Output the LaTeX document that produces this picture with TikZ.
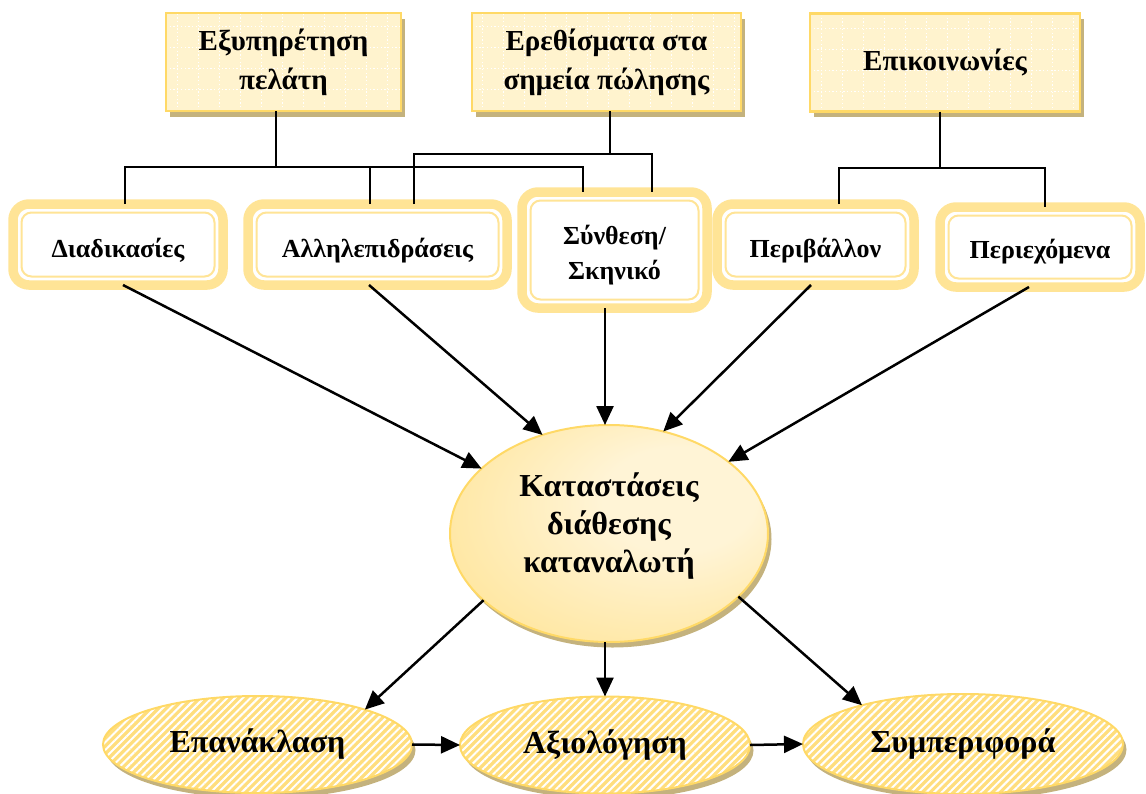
\documentclass[tikz,border=0pt]{standalone}
\usepackage{fontspec}
\setmainfont{Liberation Serif}
\usetikzlibrary{arrows.meta,shapes.geometric,shadows,patterns.meta}

\definecolor{boxfill}{RGB}{255,243,206}
\definecolor{gold}{RGB}{255,217,102}
\definecolor{band}{RGB}{255,228,150}
\definecolor{shadowc}{RGB}{196,178,125}
\definecolor{paleY}{RGB}{255,244,214}
\definecolor{stripeY}{RGB}{255,222,125}

% soft radial glow, brightest towards the upper right
\pgfdeclareradialshading{glow}{\pgfpoint{14bp}{10bp}}{%
  color(0bp)=(paleY); color(12bp)=(paleY); color(38bp)=(band); color(56bp)=(gold)}

\tikzset{
  tshadow/.style={drop shadow={shadow xshift=3.5pt, shadow yshift=-5.5pt, fill=shadowc, opacity=1}},
  topbox/.style={tshadow, draw=gold, line width=2.5pt, fill=boxfill,
    minimum width=#1, minimum height=98pt, inner sep=0pt, outer sep=0pt,
    align=center, font=\fontsize{29}{39}\selectfont\bfseries,
    path picture={\draw[white, line width=1.3pt, dash pattern=on 1.3pt off 2.4pt, step=21pt]
      (path picture bounding box.south west) grid (path picture bounding box.north east);}},
  midbox/.style={draw=band, line width=9.5pt, fill=white, rounded corners=16pt,
    minimum width=#1, inner sep=0pt, outer sep=0pt,
    path picture={\draw[band, line width=2pt, rounded corners=10pt]
      ([xshift=8.5pt,yshift=-8.5pt]path picture bounding box.north west) rectangle
      ([xshift=-8.5pt,yshift=8.5pt]path picture bounding box.south east);}},
  midtext/.style={align=center, inner sep=0pt, font=\fontsize{26}{35}\selectfont\bfseries},
  hub/.style={tshadow, ellipse, shading=glow, draw=gold, line width=2pt,
    inner sep=0pt, outer sep=0pt},
  hubtext/.style={align=center, inner sep=0pt, font=\fontsize{32}{38}\selectfont\bfseries},
  outcome/.style={tshadow, ellipse, preaction={fill=stripeY},
    pattern={Lines[angle=45,distance=5.5pt,line width=2pt]}, pattern color=white,
    draw=gold, line width=2pt, minimum height=97pt, minimum width=#1,
    inner sep=0pt, outer sep=0pt, font=\fontsize{32}{38}\selectfont\bfseries},
  link/.style={line width=2.5pt},
  arr/.style={line width=2.5pt, -{Triangle[length=19pt,width=17pt]}}
}

\begin{document}
\begin{tikzpicture}[x=1pt,y=-1pt]
\useasboundingbox (0,0) rectangle (1146,793);

% sources of stimuli
\node[topbox=235pt] (t1) at (283.5,62) {Εξυπηρέτηση\\πελάτη};
\node[topbox=269pt] (t2) at (606.5,62) {Ερεθίσματα στα\\σημεία πώλησης};
\node[topbox=270pt] (t3) at (945,62.5) {Επικοινωνίες};

% stimulus categories: frames, then their labels
\node[midbox=210pt, minimum height=81pt]  (m1) at (118,244.5)  {};
\node[midbox=259pt, minimum height=81pt]  (m2) at (377.5,244.5) {};
\node[midbox=185pt, minimum height=116pt] (m3) at (614.5,250)  {};
\node[midbox=197pt, minimum height=81pt]  (m4) at (815.5,244.5) {};
\node[midbox=200pt, minimum height=80pt]  (m5) at (1040,247)   {};
\node[midtext] (m1t) at ([yshift=-6pt]m1.center) {Διαδικασίες};
\node[midtext] (m2t) at ([yshift=-6pt]m2.center) {Αλληλεπιδράσεις};
\node[midtext] (m3t) at ([yshift=-5pt]m3.center) {Σύνθεση/\\Σκηνικό};
\node[midtext] (m4t) at ([yshift=-6pt]m4.center) {Περιβάλλον};
\node[midtext] (m5t) at ([yshift=-5pt]m5.center) {Περιεχόμενα};

% consumer state
\node[hub, minimum width=318pt, minimum height=217pt] (c) at (609,533.5) {};
\node[hubtext] (ct) at ([yshift=7pt]c.center) {Καταστάσεις\\διάθεσης\\καταναλωτή};

% responses
\node[outcome=309pt] (e1) at (257.5,744.5) {Επανάκλαση};
\node[outcome=290pt] (e2) at (605,745)     {Αξιολόγηση};
\node[outcome=320pt, minimum height=100pt] (e3) at (963,744) {Συμπεριφορά};

% bus lines from the top boxes
\coordinate (j1) at (276,167);
\coordinate (j2) at (610,154);
\coordinate (j3) at (940,168);
\draw[link] (t1.south -| j1) -- (j1);
\draw[link] ([xshift=7pt]m1.north) |- (j1) -| ([xshift=-31.5pt]m3.north);
\draw[link] ([xshift=-7.5pt]m2.north) -- ([xshift=-7.5pt]m2.north |- j1);
\draw[link] (t2.south -| j2) -- (j2);
\draw[link] ([xshift=36.5pt]m2.north) |- (j2) -| ([xshift=37.5pt]m3.north);
\draw[link] (t3.south -| j3) -- (j3);
\draw[link] ([xshift=23.5pt]m4.north) |- (j3) -| ([xshift=5pt]m5.north);

% categories into the consumer state
\draw[arr] ([xshift=5pt]m1.south) -- (c.153);
\draw[arr] ([xshift=-8.5pt]m2.south) -- (c.124);
\draw[arr] ([xshift=-4pt]m3.south -| c.north) -- ([xshift=-4pt]c.north);
\draw[arr] ([xshift=-4.5pt]m4.south) -- (c.62);
\draw[arr] ([xshift=-11pt]m5.south) -- (c.31);

% consumer state into responses
\draw[arr] (c.208) -- (e1.18);
\draw[arr] (c.south -| e2.north) -- (e2.north);
\draw[arr] (c.-26) -- (e3.159);
\draw[arr] (e1.east) -- (e2.west);
\draw[arr] (e2.east) -- (e3.west);
\end{tikzpicture}
\end{document}
